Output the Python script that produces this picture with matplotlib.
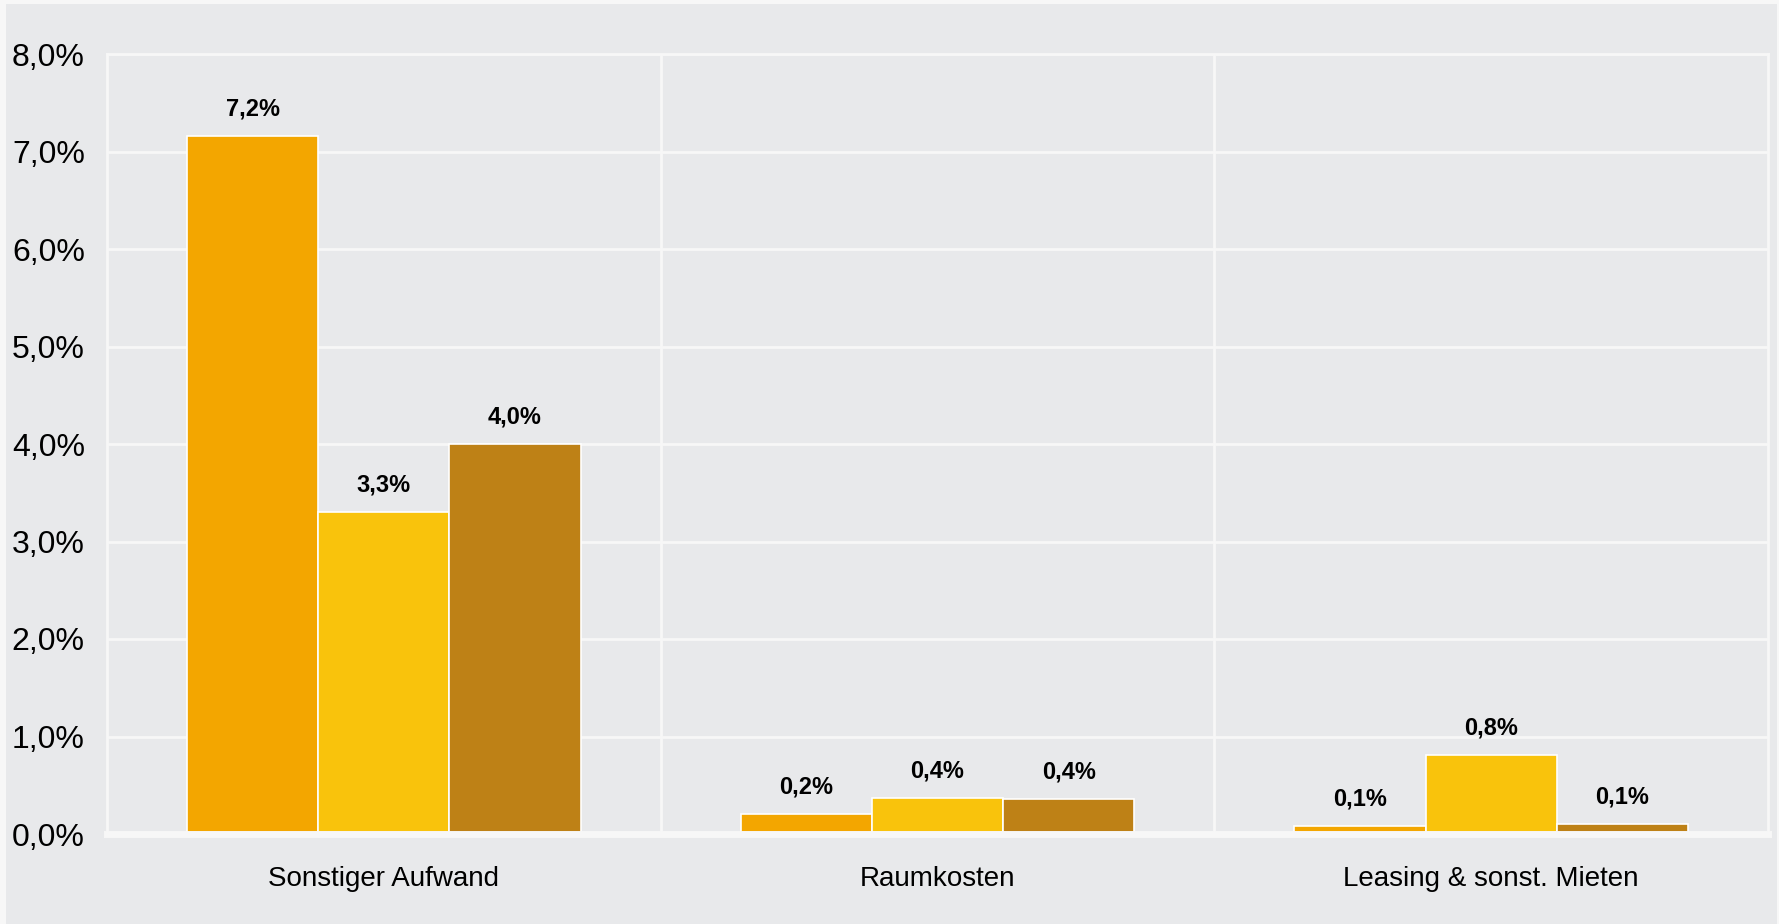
import numpy as np
import matplotlib.pyplot as plt
from matplotlib.patches import Rectangle
from matplotlib.ticker import FuncFormatter

plt.rcParams['font.family'] = ['Liberation Sans', 'DejaVu Sans']

# Daten (Anteil in %)
kategorien = ['Sonstiger Aufwand', 'Raumkosten', 'Leasing & sonst. Mieten']
serie_1 = [7.16, 0.21, 0.08]
serie_2 = [3.30, 0.37, 0.81]
serie_3 = [4.00, 0.36, 0.10]
farben = ['#F3A600', '#F9C30C', '#BE8116']

bg = '#E8E9EB'
weiss = '#F7F7F7'

fig = plt.figure(figsize=(17.79, 9.24), dpi=100, facecolor=weiss)
# grauer Hintergrund mit hellem Rand
fig.patches.append(Rectangle((6 / 1779, 0), 1771 / 1779, 920 / 924,
                             transform=fig.transFigure, facecolor=bg,
                             edgecolor='none', zorder=-10))

ax = fig.add_axes([107 / 1779, 90 / 924, 1661 / 1779, 780 / 924])
ax.set_facecolor(bg)

x = np.arange(len(kategorien))
breite = 0.237
for i, (werte, farbe) in enumerate(zip([serie_1, serie_2, serie_3], farben)):
    pos = x + (i - 1) * breite
    bars = ax.bar(pos, werte, width=breite, color=farbe, edgecolor='white',
                  linewidth=1.2, zorder=3)
    for b, v in zip(bars, werte):
        ax.annotate(('%.1f%%' % v).replace('.', ','),
                    (b.get_x() + b.get_width() / 2, b.get_height()),
                    xytext=(0, 11), textcoords='offset points',
                    ha='center', va='bottom', fontsize=17, fontweight='bold',
                    color='black', zorder=4)

ax.set_xlim(-0.5, len(kategorien) - 0.5)
ax.set_ylim(0, 8)
ax.set_yticks(np.arange(0, 9, 1))
ax.yaxis.set_major_formatter(FuncFormatter(lambda v, p: ('%.1f%%' % v).replace('.', ',')))
ax.set_xticks(x)
ax.set_xticklabels(kategorien)

# Gitter
ax.set_axisbelow(True)
ax.yaxis.grid(True, color=weiss, linewidth=2)
for sep in [0.5, 1.5]:
    ax.axvline(sep, color=weiss, linewidth=2, zorder=1)

for s in ['left', 'top', 'right']:
    ax.spines[s].set_color(weiss)
    ax.spines[s].set_linewidth(2)
ax.spines['bottom'].set_color(weiss)
ax.spines['bottom'].set_linewidth(5)
ax.spines['bottom'].set_zorder(5)

ax.tick_params(axis='y', length=0, pad=16, labelsize=23, labelcolor='black')
ax.tick_params(axis='x', length=0, pad=23, labelsize=20, labelcolor='black')

plt.savefig('out.png', dpi=100, facecolor=fig.get_facecolor())
